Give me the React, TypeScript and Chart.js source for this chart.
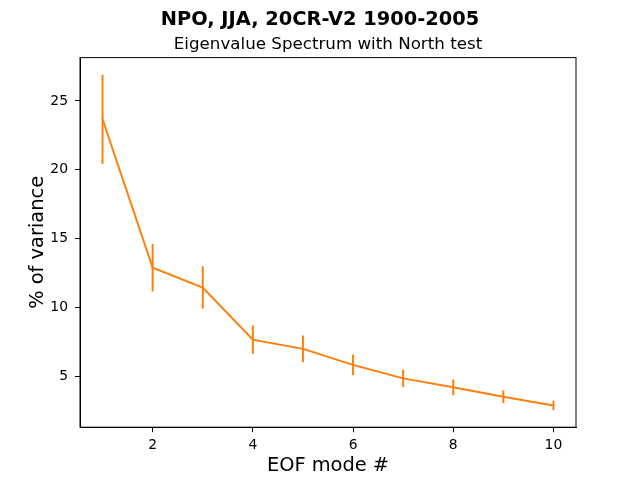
import { useEffect, useRef } from "react";
import { Chart, registerables } from "chart.js";

Chart.register(...registerables);

// EOF mode numbers, % variance explained and North-test error half-widths
const modes = [1, 2, 3, 4, 5, 6, 7, 8, 9, 10];
const variance = [23.67, 12.9, 11.47, 7.69, 7.02, 5.86, 4.88, 4.23, 3.55, 2.92];
const northErr = [3.23, 1.72, 1.54, 1.03, 0.97, 0.75, 0.63, 0.57, 0.46, 0.35];
const xTicks = [2, 4, 6, 8, 10];
const yTicks = [5, 10, 15, 20, 25];

const ORANGE = "#ff7f0e";
const FONT = "'DejaVu Sans', sans-serif";

// vertical error bars + box + all the titles, matplotlib style
const errorBarPlugin = {
    id: "errorBars",
    afterDatasetsDraw(chart: any) {
        const { ctx, scales } = chart;
        ctx.save();
        ctx.strokeStyle = ORANGE;
        ctx.lineWidth = 2;
        modes.forEach((m, i) => {
            const x = scales.x.getPixelForValue(m);
            ctx.beginPath();
            ctx.moveTo(x, scales.y.getPixelForValue(variance[i] + northErr[i]));
            ctx.lineTo(x, scales.y.getPixelForValue(variance[i] - northErr[i]));
            ctx.stroke();
        });
        ctx.restore();
    },
    afterDraw(chart: any) {
        const { ctx, chartArea } = chart;
        const { left, right, top, bottom } = chartArea;
        const cx = (left + right) / 2;
        ctx.save();
        ctx.strokeStyle = "#000";
        ctx.lineWidth = 1;
        ctx.strokeRect(left, top, right - left, bottom - top);

        ctx.fillStyle = "#000";
        ctx.textAlign = "center";
        ctx.textBaseline = "alphabetic";
        ctx.font = `bold 19.4px ${FONT}`;
        ctx.fillText("NPO, JJA, 20CR-V2 1900-2005", 320, 25);
        ctx.font = `16.7px ${FONT}`;
        ctx.fillText("Eigenvalue Spectrum with North test", cx, 49);
        ctx.font = `19.4px ${FONT}`;
        ctx.fillText("EOF mode #", cx, 470.7);
        ctx.translate(42.7, (top + bottom) / 2);
        ctx.rotate(-Math.PI / 2);
        ctx.fillText("% of variance", 0, 0);
        ctx.restore();
    },
};

export default function App() {
    const canvasRef = useRef<HTMLCanvasElement>(null);

    useEffect(() => {
        const ctx = canvasRef.current?.getContext("2d");
        if (!ctx) return;

        const chart = new Chart(ctx, {
            type: "line",
            data: {
                datasets: [
                    {
                        data: modes.map((m, i) => ({ x: m, y: variance[i] })),
                        borderColor: ORANGE,
                        borderWidth: 2,
                        pointRadius: 0,
                        tension: 0,
                    },
                ],
            },
            options: {
                responsive: false,
                animation: false,
                layout: { padding: { top: 57.6, right: 64, left: 0, bottom: 0 } },
                plugins: {
                    legend: { display: false },
                    tooltip: { enabled: false },
                },
                scales: {
                    x: {
                        type: "linear",
                        min: 0.55,
                        max: 10.45,
                        afterBuildTicks: (s: any) => {
                            s.ticks = xTicks.map((v) => ({ value: v }));
                        },
                        afterFit: (s: any) => {
                            s.height = 52.8;
                        },
                        grid: {
                            drawOnChartArea: false,
                            drawTicks: true,
                            tickLength: 5,
                            color: "#000",
                        },
                        border: { display: true, color: "#000" },
                        ticks: {
                            color: "#000",
                            padding: 5,
                            font: { family: FONT, size: 13.9 },
                            maxRotation: 0,
                        },
                    },
                    y: {
                        type: "linear",
                        min: 1.34,
                        max: 28.14,
                        afterBuildTicks: (s: any) => {
                            s.ticks = yTicks.map((v) => ({ value: v }));
                        },
                        afterFit: (s: any) => {
                            s.width = 80;
                        },
                        grid: {
                            drawOnChartArea: false,
                            drawTicks: true,
                            tickLength: 5,
                            color: "#000",
                        },
                        border: { display: true, color: "#000" },
                        ticks: {
                            color: "#000",
                            padding: 7,
                            font: { family: FONT, size: 13.9 },
                        },
                    },
                },
            },
            plugins: [errorBarPlugin],
        });

        return () => {
            chart.destroy();
        };
    }, []);

    return (
        <div style={{ position: "fixed", left: 0, top: 0, width: 640, height: 480, background: "#fff" }}>
            <canvas ref={canvasRef} width={640} height={480} />
        </div>
    );
}
